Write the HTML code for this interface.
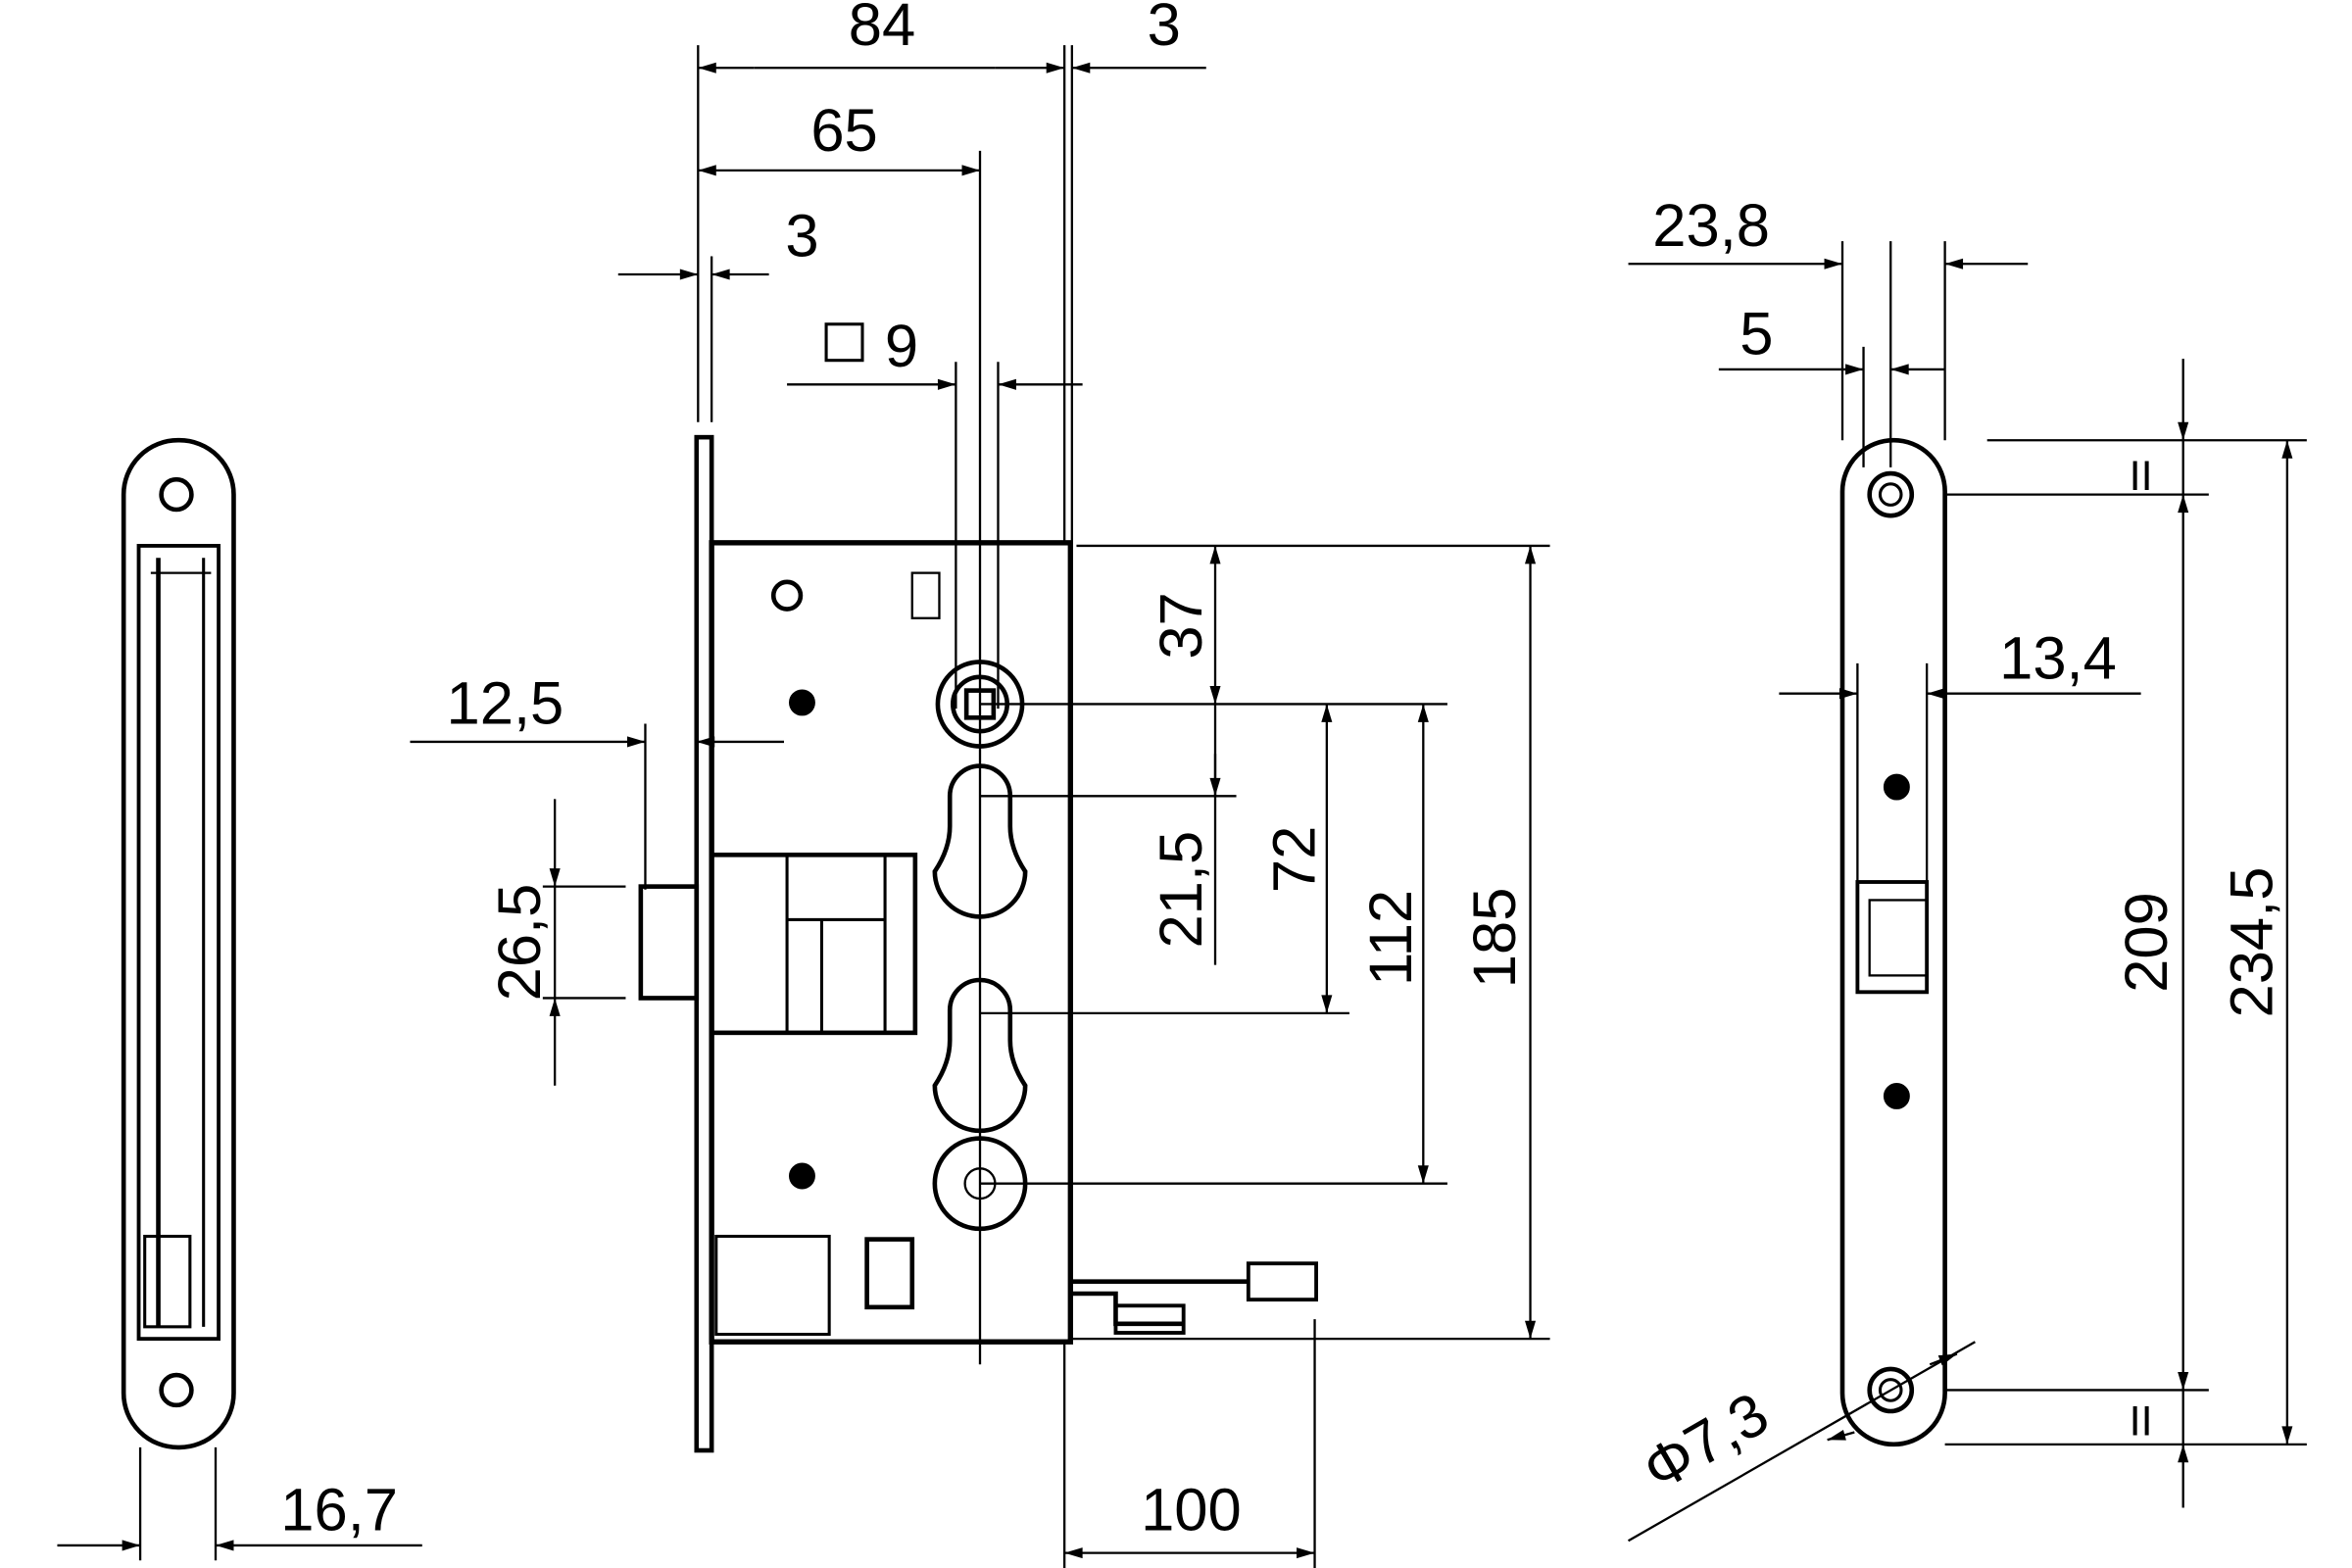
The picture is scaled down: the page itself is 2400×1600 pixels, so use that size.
<!DOCTYPE html>
<html><head><meta charset="utf-8"><style>html,body{margin:0;padding:0;background:#fff}svg{display:block}</style></head>
<body>
<svg width="2400" height="1600" viewBox="0 0 1560 1040" preserveAspectRatio="none" xmlns="http://www.w3.org/2000/svg" font-family="Liberation Sans, sans-serif" font-size="40">
<defs>
<marker id="a" viewBox="0 0 10 10" refX="10" refY="5" markerWidth="30" markerHeight="12" markerUnits="userSpaceOnUse" orient="auto-start-reverse"><path d="M0,2 L10,5 L0,8z" fill="#000"/></marker>
</defs>
<g stroke="#000" fill="none" stroke-width="1.5">
<!-- LEFT VIEW -->
<rect x="82" y="292" width="73" height="668" rx="36" stroke-width="3"/>
<circle cx="117" cy="328" r="10" stroke-width="3"/>
<circle cx="117" cy="922" r="10" stroke-width="3"/>
<rect x="92" y="362" width="53" height="526" stroke-width="2.5"/>
<line x1="105" y1="370" x2="105" y2="880" stroke-width="3"/>
<line x1="135" y1="370" x2="135" y2="880" stroke-width="2"/>
<line x1="100" y1="380" x2="140" y2="380"/>
<rect x="96" y="820" width="30" height="60" stroke-width="2"/>
<line x1="93" y1="960" x2="93" y2="1035"/><line x1="143" y1="960" x2="143" y2="1035"/>
<line x1="38" y1="1025" x2="93" y2="1025" marker-end="url(#a)"/>
<line x1="280" y1="1025" x2="143" y2="1025" marker-end="url(#a)"/>
<!-- MIDDLE -->
<rect x="462" y="290" width="10" height="672" stroke-width="3"/>
<rect x="472" y="360" width="238" height="530" stroke-width="3.5"/>
<line x1="463" y1="30" x2="463" y2="280"/><line x1="472" y1="170" x2="472" y2="280"/>
<line x1="650" y1="100" x2="650" y2="905"/>
<line x1="706" y1="30" x2="706" y2="360"/><line x1="711" y1="30" x2="711" y2="360"/>
<line x1="500" y1="45" x2="463" y2="45" marker-end="url(#a)"/>
<line x1="660" y1="45" x2="706" y2="45" marker-end="url(#a)"/>
<line x1="500" y1="45" x2="660" y2="45"/>
<line x1="800" y1="45" x2="711" y2="45" marker-end="url(#a)"/>
<line x1="463" y1="113" x2="650" y2="113" marker-start="url(#a)" marker-end="url(#a)"/>
<line x1="410" y1="182" x2="463" y2="182" marker-end="url(#a)"/>
<line x1="510" y1="182" x2="472" y2="182" marker-end="url(#a)"/>
<line x1="634" y1="240" x2="634" y2="470"/><line x1="662" y1="240" x2="662" y2="470"/>
<line x1="522" y1="255" x2="634" y2="255" marker-end="url(#a)"/>
<line x1="718" y1="255" x2="662" y2="255" marker-end="url(#a)"/>
<!-- internals -->
<circle cx="650" cy="467" r="28" stroke-width="3"/><circle cx="650" cy="467" r="18" stroke-width="3"/>
<rect x="641" y="458" width="18" height="18" stroke-width="3"/>
<path d="M630,528 a20,20 0 0 1 40,0 v20 q0,15 10,30 a30,30 0 1 1 -60,0 q10,-15 10,-30z" stroke-width="3"/>
<path d="M630,670 a20,20 0 0 1 40,0 v20 q0,15 10,30 a30,30 0 1 1 -60,0 q10,-15 10,-30z" stroke-width="3"/>
<circle cx="650" cy="785" r="30" stroke-width="3"/><circle cx="650" cy="785" r="10"/>
<rect x="425" y="588" width="37" height="74" stroke-width="3"/>
<rect x="472" y="567" width="135" height="118" stroke-width="3"/>
<path d="M522,567 v118 M522,610 h65 v75 M545,610 v75 M587,567 v43" stroke-width="2"/>
<circle cx="532" cy="466" r="8" fill="#000"/><circle cx="532" cy="780" r="8" fill="#000"/>
<circle cx="522" cy="395" r="9" stroke-width="3"/>
<rect x="575" y="822" width="30" height="45" stroke-width="3"/>
<rect x="475" y="820" width="75" height="65" stroke-width="2"/>
<rect x="605" y="380" width="18" height="30"/>
<path d="M710,850 h118 M710,858 h30 v20 h45" stroke-width="3"/>
<rect x="828" y="838" width="45" height="24" stroke-width="2.5"/>
<rect x="740" y="866" width="45" height="18" stroke-width="2.5"/>
<!-- 12,5 / 26,5 -->
<line x1="428" y1="480" x2="428" y2="590"/>
<line x1="272" y1="492" x2="428" y2="492" marker-end="url(#a)"/>
<line x1="520" y1="492" x2="462" y2="492" marker-end="url(#a)"/>
<line x1="360" y1="588" x2="415" y2="588"/><line x1="360" y1="662" x2="415" y2="662"/>
<line x1="368" y1="530" x2="368" y2="588" marker-end="url(#a)"/>
<line x1="368" y1="720" x2="368" y2="662" marker-end="url(#a)"/>
<line x1="368" y1="588" x2="368" y2="662"/>
<!-- right dims -->
<line x1="714" y1="362" x2="1028" y2="362"/>
<line x1="650" y1="467" x2="960" y2="467"/>
<line x1="650" y1="528" x2="820" y2="528"/>
<line x1="650" y1="672" x2="895" y2="672"/>
<line x1="650" y1="785" x2="960" y2="785"/>
<line x1="710" y1="888" x2="1028" y2="888"/>
<line x1="806" y1="362" x2="806" y2="467" marker-start="url(#a)" marker-end="url(#a)"/>
<line x1="806" y1="467" x2="806" y2="640"/>
<line x1="806" y1="500" x2="806" y2="528" marker-end="url(#a)"/>
<line x1="880" y1="467" x2="880" y2="672" marker-start="url(#a)" marker-end="url(#a)"/>
<line x1="944" y1="467" x2="944" y2="785" marker-start="url(#a)" marker-end="url(#a)"/>
<line x1="1015" y1="362" x2="1015" y2="888" marker-start="url(#a)" marker-end="url(#a)"/>
<line x1="706" y1="890" x2="706" y2="1045"/><line x1="872" y1="875" x2="872" y2="1045"/>
<line x1="706" y1="1030" x2="872" y2="1030" marker-start="url(#a)" marker-end="url(#a)"/>
<!-- RIGHT VIEW -->
<rect x="1222" y="292" width="68" height="666" rx="34" stroke-width="3"/>
<circle cx="1254" cy="328" r="14" stroke-width="3"/><circle cx="1254" cy="328" r="7" stroke-width="2"/>
<circle cx="1254" cy="922" r="14" stroke-width="3"/><circle cx="1254" cy="922" r="7" stroke-width="2"/>
<circle cx="1258" cy="522" r="8" fill="#000"/><circle cx="1258" cy="727" r="8" fill="#000"/>
<rect x="1232" y="585" width="46" height="73" stroke-width="2.5"/>
<rect x="1240" y="597" width="38" height="50" stroke-width="1.5"/>
<line x1="1222" y1="160" x2="1222" y2="292"/><line x1="1290" y1="160" x2="1290" y2="292"/>
<line x1="1254" y1="160" x2="1254" y2="310"/><line x1="1236" y1="230" x2="1236" y2="310"/>
<line x1="1080" y1="175" x2="1222" y2="175" marker-end="url(#a)"/>
<line x1="1345" y1="175" x2="1290" y2="175" marker-end="url(#a)"/>
<line x1="1140" y1="245" x2="1236" y2="245" marker-end="url(#a)"/>
<line x1="1290" y1="245" x2="1254" y2="245" marker-end="url(#a)"/>
<line x1="1232" y1="440" x2="1232" y2="585"/><line x1="1278" y1="440" x2="1278" y2="585"/>
<line x1="1180" y1="460" x2="1232" y2="460" marker-end="url(#a)"/>
<line x1="1420" y1="460" x2="1278" y2="460" marker-end="url(#a)"/>
<line x1="1318" y1="292" x2="1530" y2="292"/><line x1="1290" y1="328" x2="1465" y2="328"/>
<line x1="1290" y1="922" x2="1465" y2="922"/><line x1="1290" y1="958" x2="1530" y2="958"/>
<line x1="1448" y1="238" x2="1448" y2="292" marker-end="url(#a)"/>
<line x1="1448" y1="292" x2="1448" y2="328"/>
<line x1="1448" y1="328" x2="1448" y2="922" marker-start="url(#a)" marker-end="url(#a)"/>
<line x1="1448" y1="922" x2="1448" y2="958"/>
<line x1="1448" y1="1000" x2="1448" y2="958" marker-end="url(#a)"/>
<line x1="1517" y1="292" x2="1517" y2="958" marker-start="url(#a)" marker-end="url(#a)"/>
<line x1="1080" y1="1022" x2="1310" y2="890"/>
<line x1="1230" y1="950" x2="1212" y2="955" marker-end="url(#a)"/>
<line x1="1280" y1="905" x2="1298" y2="898" marker-end="url(#a)"/>
</g>
<g fill="#000" text-anchor="middle">
<text x="225" y="1015">16,7</text>
<text x="585" y="30">84</text><text x="772" y="30">3</text>
<text x="560" y="100">65</text><text x="532" y="170">3</text>
<rect x="548" y="215" width="24" height="24" fill="none" stroke="#000" stroke-width="2"/><text x="598" y="243">9</text>
<text x="335" y="480">12,5</text>
<text transform="translate(358,625) rotate(-90)">26,5</text>
<text transform="translate(797,415) rotate(-90)">37</text>
<text transform="translate(797,590) rotate(-90)">21,5</text>
<text transform="translate(872,570) rotate(-90)">72</text>
<text transform="translate(936,622) rotate(-90)">112</text>
<text transform="translate(1005,622) rotate(-90)">185</text>
<text x="790" y="1015">100</text>
<text x="1135" y="163">23,8</text><text x="1165" y="235">5</text>
<text x="1365" y="450">13,4</text>
<text transform="translate(1437,625) rotate(-90)">209</text>
<text transform="translate(1507,625) rotate(-90)">234,5</text>
<text x="1420" y="325" font-size="28">II</text><text x="1420" y="952" font-size="28">II</text>
<text transform="translate(1138,968) rotate(-30)">Φ7,3</text>
</g>
</svg>
</body></html>
